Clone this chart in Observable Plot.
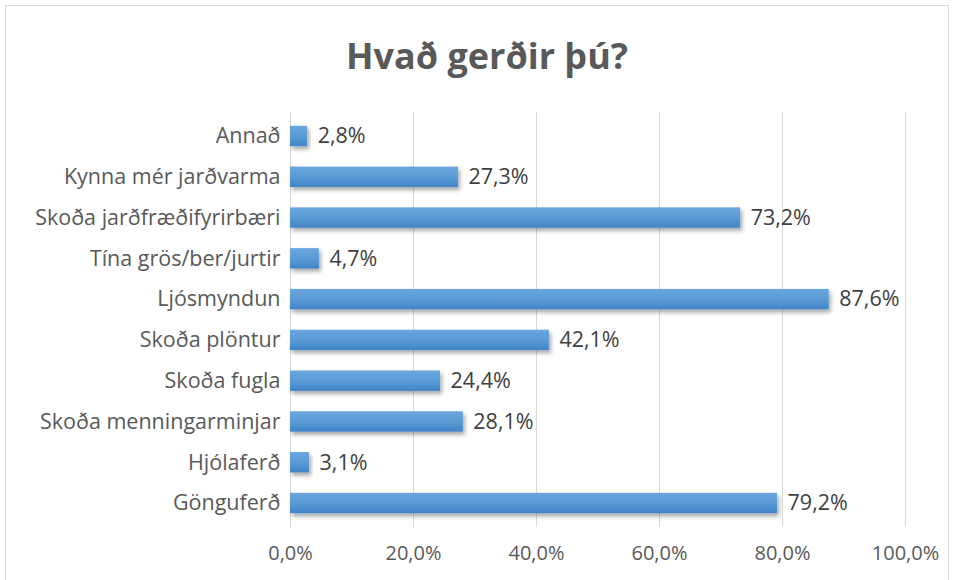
<!DOCTYPE html>
<html><head><meta charset="utf-8">
<script src="https://cdn.jsdelivr.net/npm/d3@7"></script>
<script src="https://cdn.jsdelivr.net/npm/@observablehq/plot@0.6"></script>
<style>
body{margin:0;background:#fff;}
#wrap{position:relative;width:958px;height:580px;overflow:hidden;}
#frame{position:absolute;left:5px;top:5px;width:944px;height:600px;border:1px solid #d9d9d9;box-sizing:border-box;}
#title{position:absolute;left:0;top:0;width:974px;height:100px;line-height:112px;text-align:center;font-family:"Open Sans",sans-serif;font-weight:bold;font-size:36px;color:#595959;}
#chart{position:absolute;left:0;top:100px;}
</style></head>
<body><div id="wrap"><div id="frame"></div><div id="title">Hvað gerðir þú?</div><div id="chart"></div></div>
<script>
const categories = ["Annað","Kynna mér jarðvarma","Skoða jarðfræðifyrirbæri","Tína grös/ber/jurtir","Ljósmyndun","Skoða plöntur","Skoða fugla","Skoða menningarminjar","Hjólaferð","Gönguferð"];
const values = [2.8,27.3,73.2,4.7,87.6,42.1,24.4,28.1,3.1,79.2];
const xTicks = [0,20,40,60,80,100];
const data = categories.map((c,i)=>({cat:c,val:values[i]}));
const fmt = v => v.toFixed(1).replace(".",",") + "%";

const plot = Plot.plot({
  width:958, height:480,
  marginTop:12, marginBottom:53, marginLeft:290, marginRight:53,
  style:{fontFamily:"'Open Sans',sans-serif", fontSize:"20px", color:"#595959", background:"transparent"},
  x:{domain:[0,100], ticks:xTicks, tickFormat:fmt, label:null},
  y:{domain:categories, paddingInner:0.5, paddingOuter:0.338, round:false, label:null},
  marks:[
    Plot.ruleX(xTicks,{stroke:"#d9d9d9", strokeWidth:1}),
    Plot.barX(data,{x:"val", y:"cat", fill:"url(#barGrad)"}),
    Plot.text(data,{x:"val", y:"cat", text:d=>fmt(d.val), textAnchor:"start", dx:10, fill:"#404040", fontSize:21.5}),
    Plot.axisX({ticks:xTicks, tickFormat:fmt, tickSize:0, tickPadding:18, fontSize:20, fill:"#595959"}),
    Plot.axisY({tickSize:0, tickPadding:10, fontSize:21.5, fill:"#595959"})
  ]
});
const ns="http://www.w3.org/2000/svg";
const defs=document.createElementNS(ns,"defs");
defs.innerHTML='<linearGradient id="barGrad" x1="0" y1="0" x2="0" y2="1"><stop offset="0" stop-color="#6aa6df"/><stop offset="0.5" stop-color="#5b9bd5"/><stop offset="1" stop-color="#3f84c8"/></linearGradient><filter id="sh" x="-10%" y="-30%" width="130%" height="180%"><feDropShadow dx="2" dy="3" stdDeviation="2" flood-color="#000" flood-opacity="0.35"/></filter>';
plot.insertBefore(defs, plot.firstChild);
plot.querySelectorAll("rect").forEach(r=>r.setAttribute("filter","url(#sh)"));
document.getElementById("chart").appendChild(plot);
</script></body></html>
